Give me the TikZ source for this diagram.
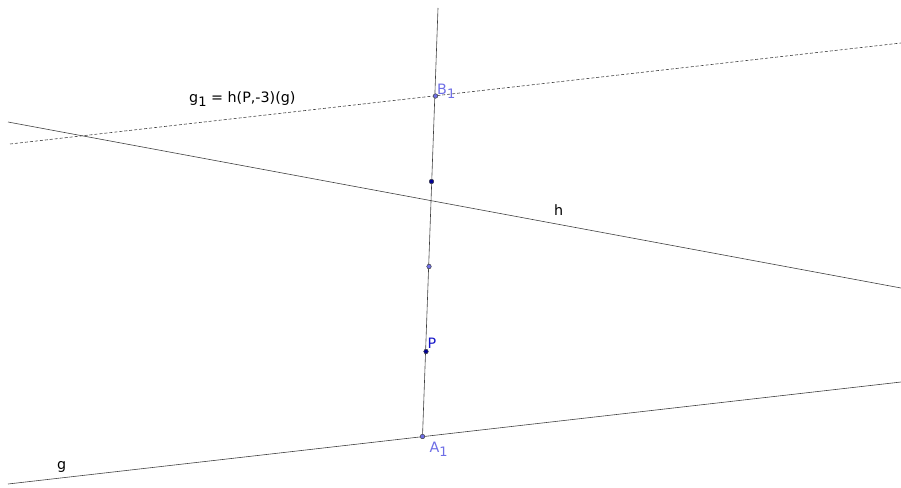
\documentclass[tikz,border=0pt]{standalone}
\usepackage{fontspec}
\setmainfont{DejaVu Sans}
\usetikzlibrary{positioning}
\definecolor{ptdark}{RGB}{0,0,150}
\definecolor{ptlight}{RGB}{110,110,230}
\definecolor{lbldark}{RGB}{20,20,200}
\newcommand{\sub}[1]{\raisebox{-0.6ex}{\fontsize{13}{14}\selectfont #1}}

\begin{document}
\begin{tikzpicture}[x=1pt, y=-1pt, font=\fontsize{14.3}{16}\selectfont,
    line/.style={draw=black!75, line width=0.6pt},
    freept/.style={circle, draw=black!70, fill=ptdark, inner sep=0pt, minimum size=4.4pt},
    deppt/.style={circle, draw=black!70, fill=ptlight, inner sep=0pt, minimum size=4.4pt}]
    \useasboundingbox (0,0) rectangle (901,487);
    % lines
    \coordinate (htl) at (8,122);  \coordinate (htr) at (901,288);
    \coordinate (gl) at (8,484);   \coordinate (gr) at (901,382);
    \coordinate (g1l) at (10,144); \coordinate (g1r) at (901,43);
    \coordinate (top) at (438,8);
    % points
    \node[deppt] (A1) at (422.5,436.5) {};
    \node[freept] (P) at (426,351.5) {};
    \node[deppt] (M) at (429,266.5) {};
    \node[freept] (Q) at (431.5,181.5) {};
    \node[deppt] (B1) at (435.5,96) {};
    \draw[line] (gl) -- (gr);
    \draw[line] (htl) -- (htr);
    \draw[line, dashed, dash pattern=on 3pt off 2pt] (g1l) -- (g1r);
    \draw[line] (top) -- (A1);
    % redraw points on top
    \node[deppt] at (A1) {};
    \node[freept] at (P) {};
    \node[deppt] at (M) {};
    \node[freept] at (Q) {};
    \node[deppt] at (B1) {};
    % labels
    \node[text=ptlight, anchor=base west, inner sep=0pt] (B1lbl) at (437,94) {B\sub{1}};
    \node[text=ptlight, anchor=base west, inner sep=0pt] (A1lbl) at (429.5,452) {A\sub{1}};
    \node[text=lbldark, anchor=base west, inner sep=0pt] (Plbl) at (427.5,348) {P};
    \node[anchor=base west, inner sep=0pt] (hlbl) at (554,215) {h};
    \node[anchor=base west, inner sep=0pt] (glbl) at (57,469) {g};
    \node[anchor=base west, inner sep=0pt] (g1lbl) at (189,102) {g\sub{1} = h(P,-3)(g)};
\end{tikzpicture}
\end{document}
